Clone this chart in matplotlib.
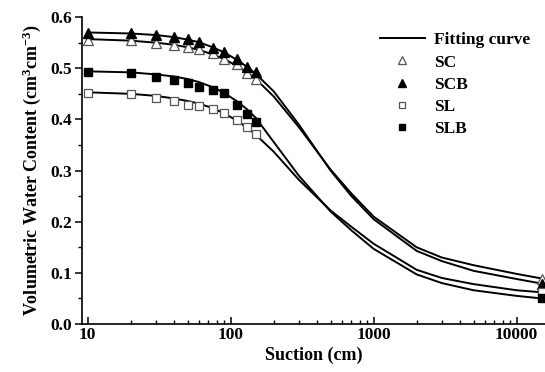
import numpy as np
import matplotlib.pyplot as plt

plt.rcParams['font.family'] = ['Liberation Serif', 'DejaVu Serif']
plt.rcParams['font.weight'] = 'bold'
plt.rcParams['mathtext.fontset'] = 'custom'
plt.rcParams['mathtext.rm'] = 'Liberation Serif:bold'
plt.rcParams['mathtext.bf'] = 'Liberation Serif:bold'
plt.rcParams['mathtext.default'] = 'bf'

# 实测点的吸力 (cm)
suction_pts = [10, 20, 30, 40, 50, 60, 75, 90, 110, 130, 150, 15000]
sc_pts = [0.556, 0.555, 0.549, 0.545, 0.542, 0.537, 0.529, 0.518, 0.508, 0.490, 0.479, 0.088]
scb_pts = [0.569, 0.569, 0.566, 0.561, 0.557, 0.551, 0.539, 0.531, 0.519, 0.503, 0.492, 0.078]
sl_pts = [0.451, 0.449, 0.442, 0.436, 0.429, 0.426, 0.420, 0.413, 0.398, 0.385, 0.371, 0.062]
slb_pts = [0.492, 0.490, 0.483, 0.478, 0.471, 0.463, 0.457, 0.451, 0.428, 0.410, 0.394, 0.050]

# 拟合曲线
suction_fit = [10, 20, 30, 40, 50, 60, 75, 90, 110, 130, 150, 200, 300, 500, 700,
               1000, 2000, 3000, 5000, 10000, 15000]
sc_fit = [0.557, 0.554, 0.550, 0.546, 0.541, 0.536, 0.527, 0.518, 0.505, 0.492, 0.479,
          0.445, 0.385, 0.302, 0.255, 0.210, 0.150, 0.130, 0.115, 0.098, 0.089]
scb_fit = [0.570, 0.568, 0.565, 0.561, 0.556, 0.551, 0.541, 0.531, 0.517, 0.503, 0.489,
           0.455, 0.390, 0.300, 0.250, 0.205, 0.143, 0.123, 0.104, 0.088, 0.079]
sl_fit = [0.453, 0.450, 0.446, 0.441, 0.436, 0.431, 0.422, 0.412, 0.398, 0.384, 0.370,
          0.337, 0.282, 0.222, 0.190, 0.157, 0.106, 0.090, 0.078, 0.066, 0.062]
slb_fit = [0.494, 0.492, 0.488, 0.484, 0.479, 0.473, 0.463, 0.452, 0.436, 0.420, 0.403,
           0.356, 0.290, 0.220, 0.183, 0.147, 0.097, 0.080, 0.066, 0.055, 0.050]

fig = plt.figure(figsize=(5.45, 3.72), dpi=100)
ax = fig.add_axes([0.150, 0.129, 0.850, 0.825])

for ys in [sc_fit, scb_fit, sl_fit, slb_fit]:
    ax.plot(suction_fit, ys, color='black', lw=1.4)
ax.plot([], [], color='black', lw=1.4, label='Fitting curve')

ms = 7
ax.plot(suction_pts, sc_pts, ls='none', marker='^', ms=ms, mfc='white', mec='#555555', mew=0.9, label='SC')
ax.plot(suction_pts, scb_pts, ls='none', marker='^', ms=ms, mfc='black', mec='black', label='SCB')
ax.plot(suction_pts, sl_pts, ls='none', marker='s', ms=ms - 0.8, mfc='white', mec='#555555', mew=0.9, label='SL')
ax.plot(suction_pts, slb_pts, ls='none', marker='s', ms=ms - 0.8, mfc='black', mec='black', label='SLB')

ax.set_xscale('log')
ax.set_xlim(9.1, 15800)
ax.set_ylim(0, 0.6)
ax.set_xticks([10, 100, 1000, 10000])
ax.set_xticklabels(['10', '100', '1000', '10000'])
ax.set_yticks(np.arange(0, 0.61, 0.1))
ax.set_yticklabels(['%.1f' % v for v in np.arange(0, 0.61, 0.1)])
ax.set_yticks(np.arange(0.05, 0.6, 0.1), minor=True)

for s in ['top', 'right']:
    ax.spines[s].set_visible(False)
for s in ['left', 'bottom']:
    ax.spines[s].set_linewidth(1.2)

ax.tick_params(axis='x', which='both', direction='in', labelsize=12.5, pad=2)
ax.tick_params(axis='x', which='major', length=5, width=1.1)
ax.tick_params(axis='x', which='minor', length=3, width=1)
ax.tick_params(axis='y', which='both', direction='out', labelsize=12.5, pad=2)
ax.tick_params(axis='y', which='major', length=5, width=1.1)
ax.tick_params(axis='y', which='minor', length=3, width=1)

ax.set_xlabel('Suction (cm)', fontsize=13, fontweight='bold', labelpad=3)
ax.set_ylabel('Volumetric Water Content (cm$^3$cm$^{-3}$)', fontsize=13, fontweight='bold', labelpad=5)

leg = ax.legend(loc='upper right', frameon=False, fontsize=12.5, handlelength=2.6,
                borderaxespad=0.2, labelspacing=0.35, handletextpad=0.5, markerscale=0.75,
                bbox_to_anchor=(0.99, 0.985))
for t in leg.get_texts():
    t.set_fontweight('bold')

fig.savefig('out.png', dpi=100)
